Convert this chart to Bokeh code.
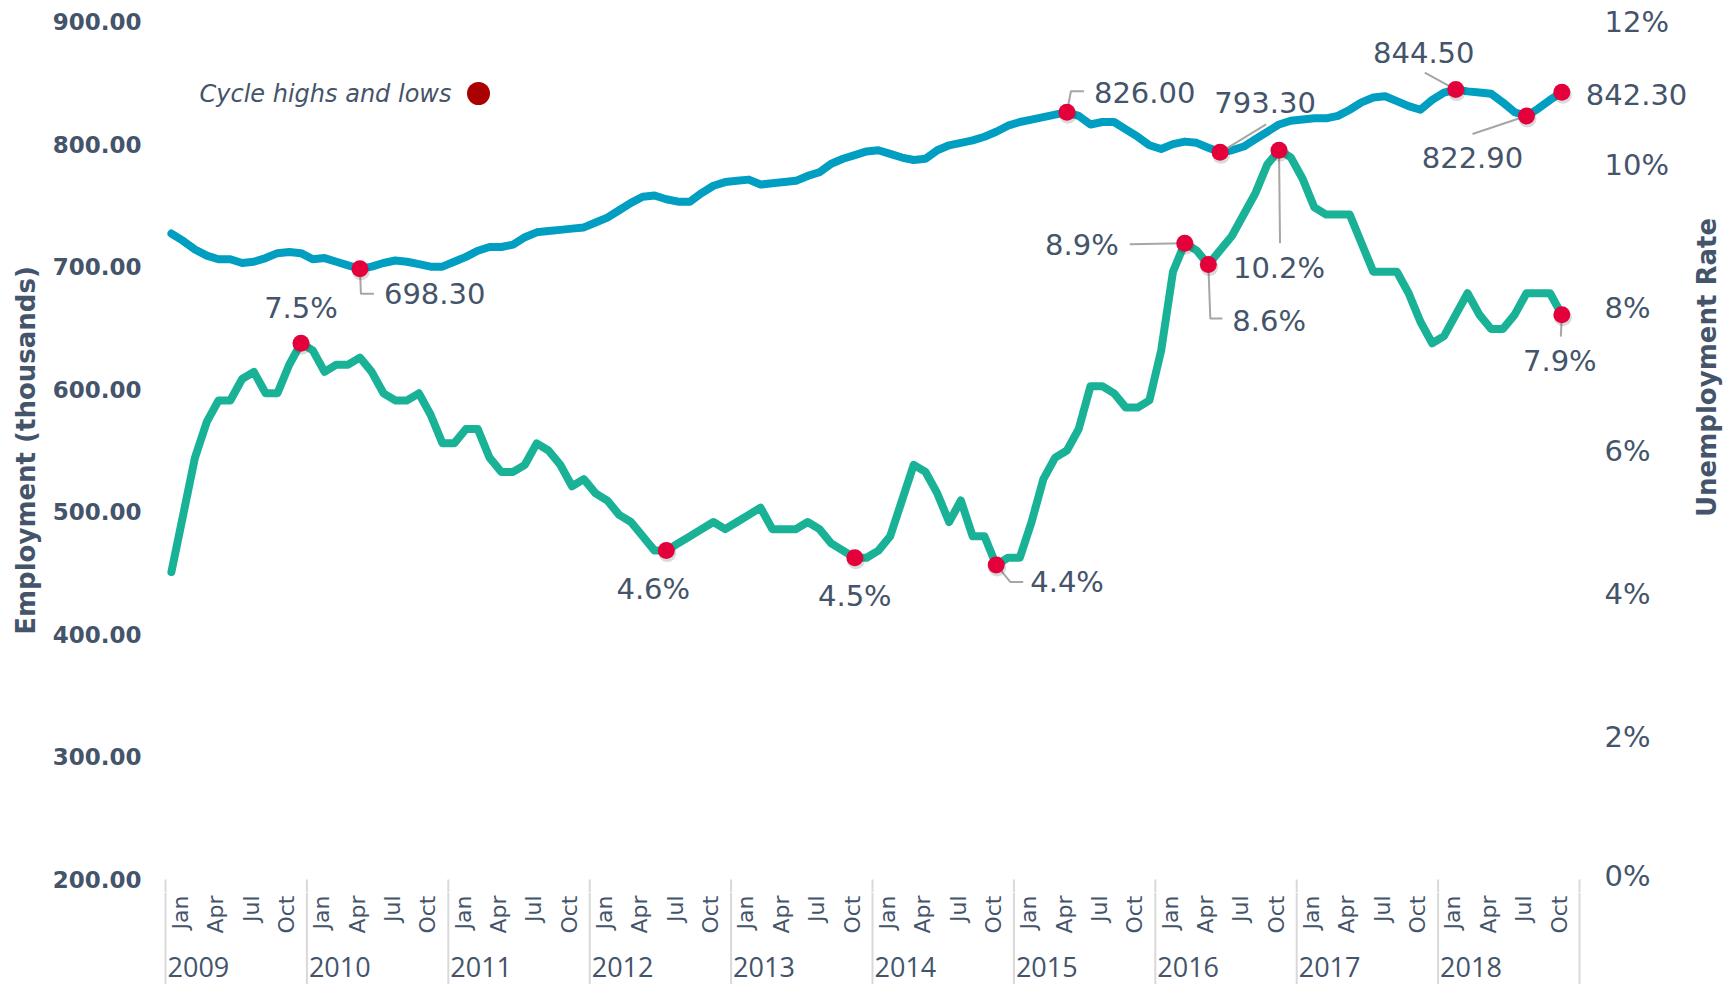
import math
from bokeh.plotting import figure
from bokeh.layouts import column
from bokeh.models import (Range1d, LinearAxis, FixedTicker, Grid, NumeralTickFormatter,
                          PrintfTickFormatter, Label)
from bokeh.core.properties import value
from bokeh.embed import file_html
from bokeh.resources import INLINE

# ---------------- data ----------------
years = list(range(2009, 2019))
month_names = ["Jan", "Feb", "Mar", "Apr", "May", "Jun",
               "Jul", "Aug", "Sep", "Oct", "Nov", "Dec"]
tick_months = ["Jan", "Apr", "Jul", "Oct"]

# Employment (thousands), monthly Jan 2009 - Nov 2018
employment = [
    727, 721, 714, 709, 706, 706, 703, 704, 707, 711, 712, 711,
    706, 707, 704, 701, 698.3, 700, 703, 705, 704, 702, 700, 700,
    704, 708, 713, 716, 716, 718, 724, 728, 729, 730, 731, 732,
    736, 740, 746, 752, 757, 758, 755, 753, 753, 760, 766, 769,
    770, 771, 767, 768, 769, 770, 774, 777, 784, 788, 791, 794,
    795, 792, 789, 787, 788, 795, 799, 801, 803, 806, 810, 815,
    818, 820, 822, 824, 826, 823, 816, 818, 818, 812, 806, 799,
    796, 800, 802, 801, 797, 793.3, 795, 798, 804, 810, 816, 819,
    820, 821, 821, 823, 828, 834, 838, 839, 835, 831, 828, 836,
    842, 844.5, 843, 842, 841, 834, 826, 822.9, 829, 836, 842.3,
]

# Unemployment rate (%), monthly Jan 2009 - Nov 2018
unemployment = [
    4.3, 5.1, 5.9, 6.4, 6.7, 6.7, 7.0, 7.1, 6.8, 6.8, 7.2, 7.5,
    7.4, 7.1, 7.2, 7.2, 7.3, 7.1, 6.8, 6.7, 6.7, 6.8, 6.5, 6.1,
    6.1, 6.3, 6.3, 5.9, 5.7, 5.7, 5.8, 6.1, 6.0, 5.8, 5.5, 5.6,
    5.4, 5.3, 5.1, 5.0, 4.8, 4.6, 4.6, 4.7, 4.8, 4.9, 5.0, 4.9,
    5.0, 5.1, 5.2, 4.9, 4.9, 4.9, 5.0, 4.9, 4.7, 4.6, 4.5, 4.5,
    4.6, 4.8, 5.3, 5.8, 5.7, 5.4, 5.0, 5.3, 4.8, 4.8, 4.4, 4.5,
    4.5, 5.0, 5.6, 5.9, 6.0, 6.3, 6.9, 6.9, 6.8, 6.6, 6.6, 6.7,
    7.4, 8.5, 8.9, 8.8, 8.6, 8.8, 9.0, 9.3, 9.6, 10.0, 10.2, 10.1,
    9.8, 9.4, 9.3, 9.3, 9.3, 8.9, 8.5, 8.5, 8.5, 8.2, 7.8, 7.5,
    7.6, 7.9, 8.2, 7.9, 7.7, 7.7, 7.9, 8.2, 8.2, 8.2, 7.9,
]

emp_ticks = [200, 300, 400, 500, 600, 700, 800, 900]
rate_ticks = [0, 2, 4, 6, 8, 10, 12]

emp_title = "Employment (thousands)"
rate_title = "Unemployment Rate"
legend_text = "Cycle highs and lows"

# cycle highs and lows: (series, month index, label)
highlights = [
    ("rate", 11, "7.5%"),
    ("emp", 16, "698.30"),
    ("rate", 42, "4.6%"),
    ("rate", 58, "4.5%"),
    ("rate", 70, "4.4%"),
    ("emp", 76, "826.00"),
    ("rate", 86, "8.9%"),
    ("rate", 88, "8.6%"),
    ("rate", 94, "10.2%"),
    ("emp", 89, "793.30"),
    ("emp", 109, "844.50"),
    ("emp", 115, "822.90"),
    ("emp", 118, "842.30"),
    ("rate", 118, "7.9%"),
]

# ---------------- styling / layout ----------------
# pixel offsets of each highlight label (and its leader line) from its point
label_layout = {
    "7.5%":   dict(dx=0,   dy=-35, align="center", leader=[]),
    "698.30": dict(dx=24,  dy=25,  align="left",   leader=[(0, 0), (1, 25), (14, 25)]),
    "4.6%":   dict(dx=-13, dy=38,  align="center", leader=[]),
    "4.5%":   dict(dx=0,   dy=38,  align="center", leader=[]),
    "4.4%":   dict(dx=34,  dy=17,  align="left",   leader=[(0, 0), (14, 17), (27, 17)]),
    "826.00": dict(dx=27,  dy=-20, align="left",   leader=[(0, 0), (4, -21), (17, -21)]),
    "8.9%":   dict(dx=-66, dy=2,   align="right",  leader=[(-55, 1), (0, 0)]),
    "8.6%":   dict(dx=24,  dy=56,  align="left",   leader=[(0, 0), (2, 54), (14, 54)]),
    "10.2%":  dict(dx=0,   dy=118, align="center", leader=[(0, 0), (1, 93)]),
    "793.30": dict(dx=45,  dy=-50, align="center", leader=[(0, 0), (46, -28)]),
    "844.50": dict(dx=-32, dy=-37, align="center", leader=[(-31, -17), (0, 0)]),
    "822.90": dict(dx=-54, dy=41,  align="center", leader=[(0, 0), (-54, 18)]),
    "842.30": dict(dx=24,  dy=2,   align="left",   leader=[]),
    "7.9%":   dict(dx=-2,  dy=46,  align="center", leader=[(0, 0), (-1, 22)]),
}

TEXT = "#44546a"
BLUE = "#009ec1"
GREEN = "#1ab296"
DOT = "#e4003b"
LEGEND_DOT = "#aa0000"
GRID = "#d9d9d9"
LEADER = "#a6a6a6"
FONT = "DejaVu Sans"

W, H = 1731, 984
H_MAIN = 892            # main panel height; the category strip fills the rest
H_AXIS = H - H_MAIN
CAT_LEFT = 165          # left edge of the category box (page px)
CAT_W = 1414            # width of the category box (all years)
TOP = 21                # page y of the top value ticks
axis_px = 858           # vertical extent of the value axes

n_slots = len(years) * 12
px_x = CAT_W / n_slots
x_start = -CAT_LEFT / px_x
x_end = (W - CAT_LEFT) / px_x
px_emp = axis_px / (emp_ticks[-1] - emp_ticks[0])
px_rate = axis_px / (rate_ticks[-1] - rate_ticks[0])
extra = (H_MAIN - TOP) - axis_px
emp_lo = emp_ticks[0] - extra / px_emp
rate_lo = rate_ticks[0] - extra / px_rate


def page_x(px):
    return (px - CAT_LEFT) / px_x


def page_y(py):
    return emp_ticks[-1] - (py - TOP) / px_emp


x_range = Range1d(x_start, x_end)

p = figure(width=W, height=H_MAIN, output_backend="svg", toolbar_location=None,
           x_range=x_range, y_range=Range1d(emp_lo, emp_ticks[-1]),
           x_axis_location=None, min_border_left=0, min_border_right=0,
           min_border_top=TOP, min_border_bottom=0,
           background_fill_color="white", border_fill_color="white")
p.outline_line_color = None
p.xgrid.visible = False
p.ygrid.visible = False
p.extra_y_ranges = {"rate": Range1d(rate_lo, rate_ticks[-1])}

# left axis (labels right-aligned 24px left of the category box)
ya = p.yaxis[0]
ya.ticker = FixedTicker(ticks=emp_ticks)
ya.formatter = NumeralTickFormatter(format="0.00")
ya.axis_line_color = None
ya.major_tick_line_color = None
ya.minor_tick_line_color = None
ya.major_tick_out = 0
ya.major_tick_in = 0
ya.major_label_standoff = -(CAT_LEFT - 24)
ya.major_label_text_font = FONT
ya.major_label_text_font_style = "bold"
ya.major_label_text_font_size = "23px"
ya.major_label_text_color = TEXT

# right axis (labels 25px right of the category box)
ra = LinearAxis(y_range_name="rate", ticker=FixedTicker(ticks=rate_ticks),
                formatter=PrintfTickFormatter(format="%d%%"))
ra.axis_line_color = None
ra.major_tick_line_color = None
ra.minor_tick_line_color = None
ra.major_tick_out = 0
ra.major_tick_in = 0
ra.major_label_standoff = (CAT_LEFT + CAT_W + 25) - W
ra.major_label_text_font = FONT
ra.major_label_text_font_size = "29px"
ra.major_label_text_color = TEXT
p.add_layout(ra, "right")

p.add_layout(Grid(dimension=1, axis=ra, grid_line_color=GRID, grid_line_width=2,
                  cross_bounds=(0, n_slots)))

# axis titles
p.text(x=[page_x(25), page_x(1706)], y=[page_y(450), page_y(367)],
       text=[emp_title, rate_title], angle=math.pi / 2, text_align="center",
       text_baseline="middle", text_font=value(FONT), text_font_style="bold",
       text_font_size="26px", text_color=TEXT)

# top of the category box (continues in the strip below)
seps = [k * 12 for k in range(len(years) + 1)]
p.segment(x0=seps, y0=[emp_ticks[0]] * len(seps), x1=seps, y1=[emp_lo] * len(seps),
          line_color=GRID, line_width=2)

# series
xs_emp = [i + 0.5 for i in range(len(employment))]
xs_rate = [i + 0.5 for i in range(len(unemployment))]
p.line(xs_emp, employment, line_color=BLUE, line_width=8, line_cap="round", line_join="round")
p.line(xs_rate, unemployment, line_color=GREEN, line_width=8, line_cap="round",
       line_join="round", y_range_name="rate")

# highlights
for series in ("emp", "rate"):
    vals = employment if series == "emp" else unemployment
    scale = px_emp if series == "emp" else px_rate
    rn = "default" if series == "emp" else "rate"
    hx, hy, lx, ly, lt, la = [], [], [], [], [], []
    lead_xs, lead_ys = [], []
    for s, idx, txt in highlights:
        if s != series:
            continue
        x0, y0 = idx + 0.5, vals[idx]
        lay = label_layout[txt]
        hx.append(x0)
        hy.append(y0)
        lx.append(x0 + lay["dx"] / px_x)
        ly.append(y0 - lay["dy"] / scale)
        lt.append(txt)
        la.append(lay["align"])
        if lay["leader"]:
            lead_xs.append([x0 + dx / px_x for dx, dy in lay["leader"]])
            lead_ys.append([y0 - dy / scale for dx, dy in lay["leader"]])
    if lead_xs:
        p.multi_line(lead_xs, lead_ys, line_color=LEADER, line_width=2, y_range_name=rn)
    # soft shadow under each marker
    p.scatter([x + 1 / px_x for x in hx], [y - 2.5 / scale for y in hy], size=18,
              fill_color="#333333", fill_alpha=0.18, line_color=None, y_range_name=rn)
    p.scatter(hx, hy, size=17, fill_color=DOT, line_color=None, y_range_name=rn)
    p.text(x=lx, y=ly, text=lt, text_align=la, text_baseline="middle",
           text_font=value(FONT), text_font_size="29px", text_color=TEXT, y_range_name=rn)

# legend
p.add_layout(Label(x=page_x(199), y=page_y(93), text=legend_text,
                   text_font=FONT, text_font_style="italic", text_font_size="24px",
                   text_color=TEXT, text_align="left", text_baseline="middle"))
p.scatter([page_x(478)], [page_y(93)], size=23, fill_color=LEGEND_DOT, line_color=None)

# ---------------- category axis strip (months / years) ----------------
q = figure(width=W, height=H_AXIS, output_backend="svg", toolbar_location=None,
           x_range=x_range, y_range=Range1d(0, H_AXIS),
           x_axis_location=None, y_axis_location=None,
           min_border_left=0, min_border_right=0, min_border_top=0,
           min_border_bottom=0, background_fill_color="white", border_fill_color="white")
q.outline_line_color = None
q.xgrid.visible = False
q.ygrid.visible = False

q.segment(x0=seps, y0=[H_AXIS] * len(seps), x1=seps, y1=[0] * len(seps),
          line_color=GRID, line_width=2)

ml_x, ml_t = [], []
for k, yr in enumerate(years):
    for m, name in enumerate(month_names):
        if name in tick_months:
            ml_x.append(k * 12 + m + 0.5 + 9 / px_x)
            ml_t.append(name)
q.text(x=ml_x, y=[H - 895] * len(ml_x), text=ml_t, angle=math.pi / 2,
       text_align="right", text_baseline="middle", text_font=value(FONT),
       text_font_size="22px", text_color=TEXT)

q.text(x=[k * 12 + 2 / px_x for k in range(len(years))], y=[H - 966] * len(years),
       text=[str(y) for y in years], text_align="left", text_baseline="middle",
       text_font=value("Open Sans"), text_font_size="27px", text_color=TEXT)

layout = column(p, q, spacing=0)
open("out.html", "w").write(file_html(layout, INLINE))
